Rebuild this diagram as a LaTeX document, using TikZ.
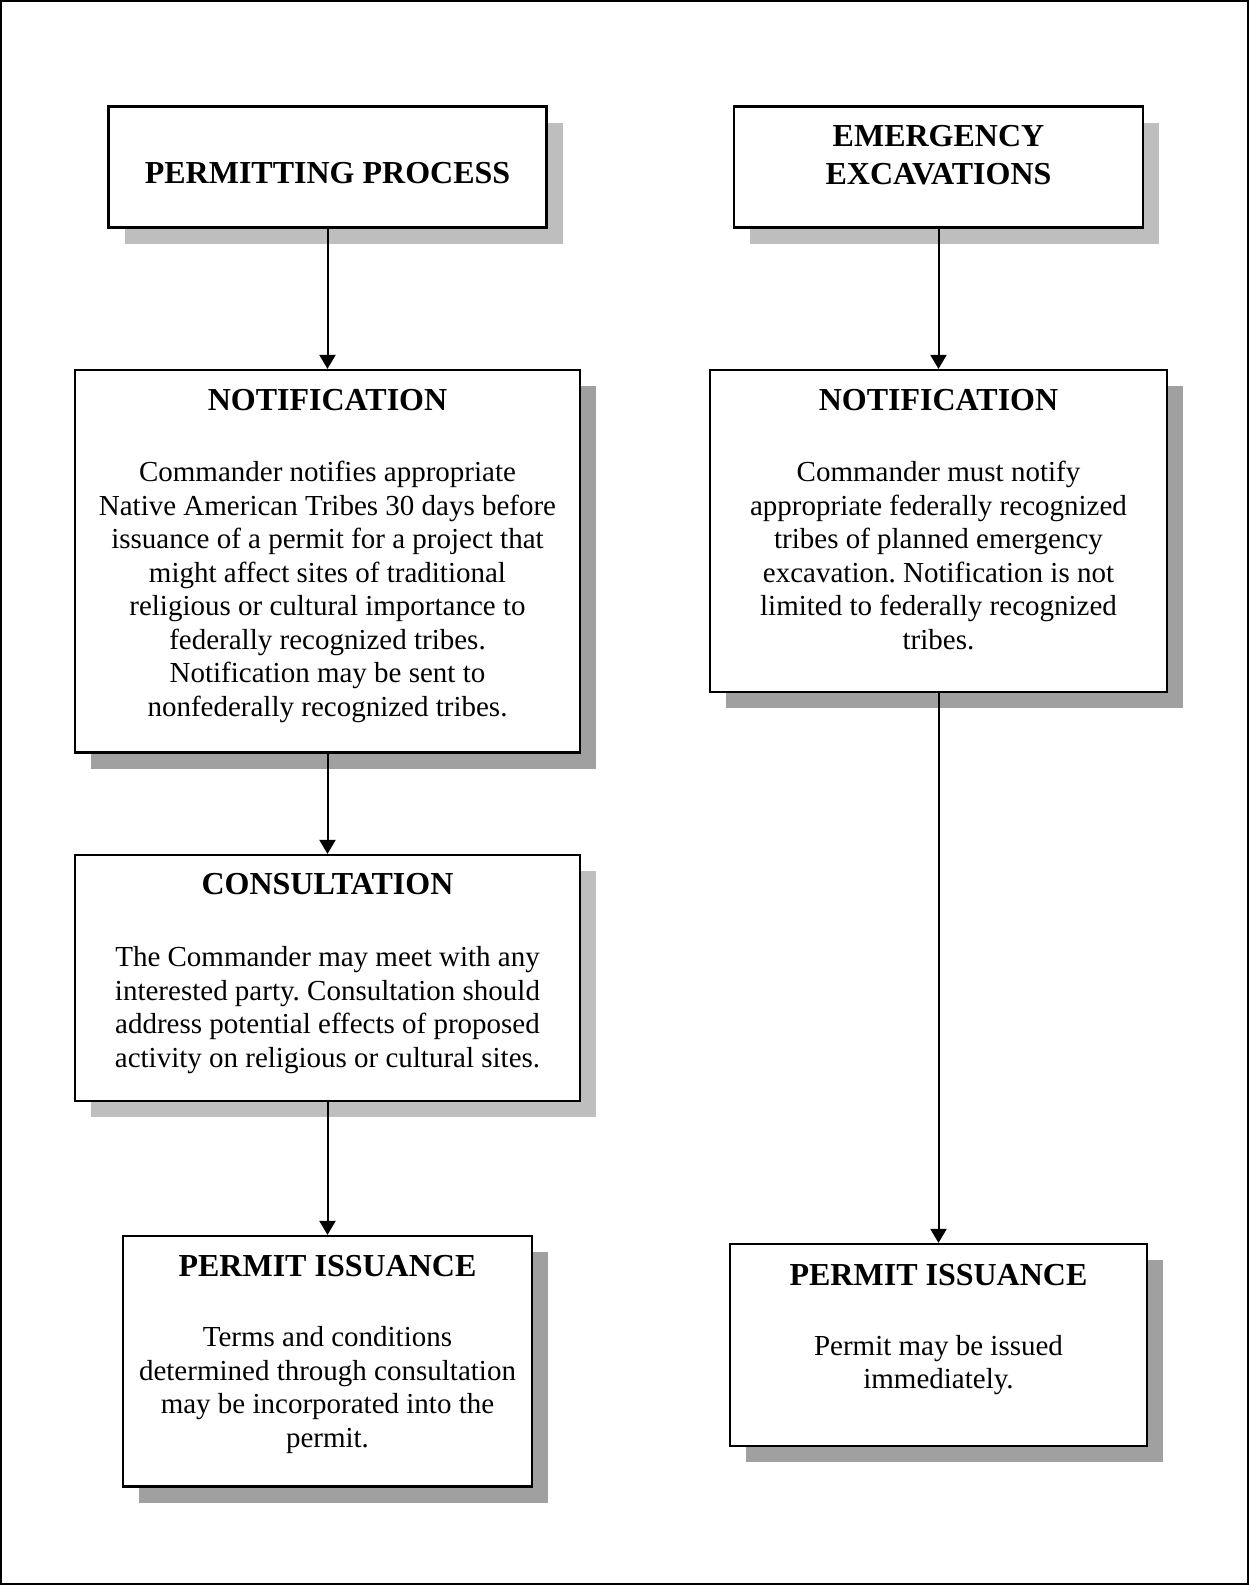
\documentclass[tikz,border=0pt]{standalone}
\usepackage{fontspec}
\setmainfont{Liberation Serif}
\usetikzlibrary{shadows,arrows.meta}
\definecolor{shadelight}{HTML}{BEBEBE}
\definecolor{shadedark}{HTML}{A0A0A0}
\frenchspacing
% centred lines whose baseline is that of the first line
\newcommand{\stack}[1]{\begin{tabular}[t]{@{}c@{}}#1\end{tabular}}
\begin{document}
\begin{tikzpicture}[x=1pt,y=-1pt,
  box/.style={rectangle, draw=black, line width=2.2pt, fill=white, inner sep=0pt},
  lightshade/.style={general shadow={fill=shadelight, shadow xshift=16pt, shadow yshift=-16pt}},
  darkshade/.style={general shadow={fill=shadedark, shadow xshift=16pt, shadow yshift=-16pt}},
  title/.style={font=\fontsize{32}{37.3}\selectfont\bfseries, inner sep=0pt, anchor=base},
  body/.style={font=\fontsize{29}{33.5}\selectfont, inner sep=0pt, anchor=base},
  flow/.style={line width=2pt, -{Triangle[width=16pt,length=14pt]}}
]
\useasboundingbox (0,0) rectangle (1249,1585);
\draw[line width=2pt] (1,1) rectangle (1248,1584);

% boxes
\node[box, lightshade, minimum width=438pt, minimum height=121pt]   (pp) at (327.5,167) {};
\node[box, lightshade, minimum width=409pt, minimum height=121pt]   (ee) at (938.5,167) {};
\node[box, darkshade,  minimum width=505pt, minimum height=382.5pt] (nl) at (327.5,561.25) {};
\node[box, darkshade,  minimum width=456.5pt, minimum height=322pt] (nr) at (938.5,531) {};
\node[box, lightshade, minimum width=505pt, minimum height=246pt]   (cl) at (327.5,978) {};
\node[box, darkshade,  minimum width=409pt, minimum height=250.5pt] (pl) at (327.5,1361.25) {};
\node[box, darkshade,  minimum width=417.5pt, minimum height=202pt] (pr) at (938.5,1345) {};

% texts
\node[title] (pp-t) at (327.5,183.3) {PERMITTING PROCESS};
\node[title] (ee-t) at (938.5,146.7) {\stack{EMERGENCY\\EXCAVATIONS}};

\node[title] (nl-t) at (327.5,410.7) {NOTIFICATION};
\node[body]  (nl-b) at (327.5,481.7) {\stack{Commander notifies appropriate\\
Native American Tribes 30 days before\\
issuance of a permit for a project that\\
might affect sites of traditional\\
religious or cultural importance to\\
federally recognized tribes.\\
Notification may be sent to\\
nonfederally recognized tribes.}};

\node[title] (nr-t) at (938.5,410.7) {NOTIFICATION};
\node[body]  (nr-b) at (938.5,481.7) {\stack{Commander must notify\\
appropriate federally recognized\\
tribes of planned emergency\\
excavation. Notification is not\\
limited to federally recognized\\
tribes.}};

\node[title] (cl-t) at (327.5,894.5) {CONSULTATION};
\node[body]  (cl-b) at (327.5,966.7) {\stack{The Commander may meet with any\\
interested party. Consultation should\\
address potential effects of proposed\\
activity on religious or cultural sites.}};

\node[title] (pl-t) at (327.5,1276.7) {PERMIT ISSUANCE};
\node[body]  (pl-b) at (327.5,1346.7) {\stack{Terms and conditions\\
determined through consultation\\
may be incorporated into the\\
permit.}};

\node[title] (pr-t) at (938.5,1285) {PERMIT ISSUANCE};
\node[body]  (pr-b) at (938.5,1355) {\stack{Permit may be issued\\
immediately.}};

% connectors
\draw[flow] (pp.south) -- (nl.north);
\draw[flow] (nl.south) -- (cl.north);
\draw[flow] (cl.south) -- (pl.north);
\draw[flow] (ee.south) -- (nr.north);
\draw[flow] (nr.south) -- (pr.north);
\end{tikzpicture}
\end{document}
